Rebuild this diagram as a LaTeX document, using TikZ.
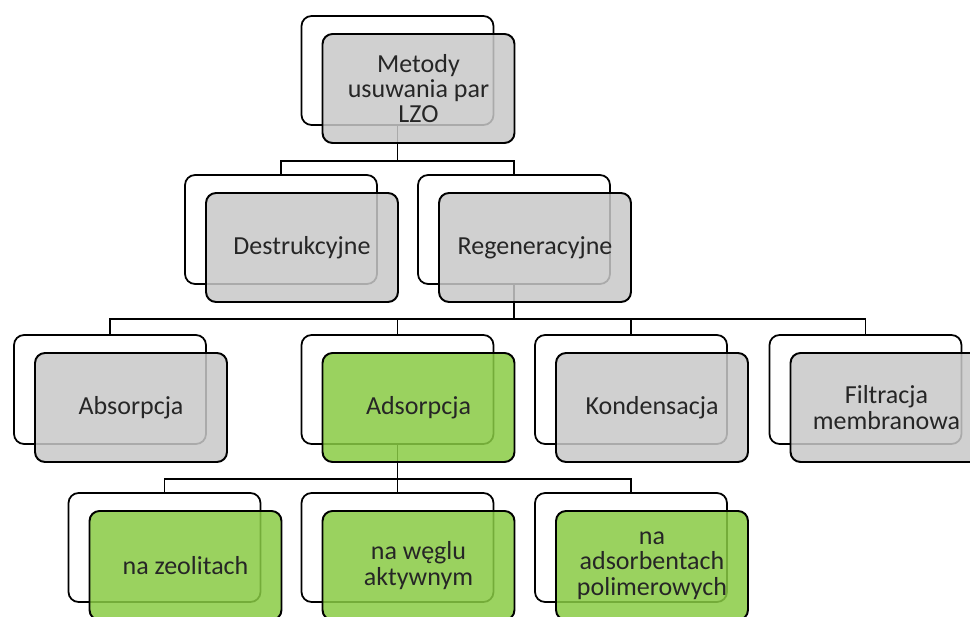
\documentclass[tikz,border=0pt]{standalone}
\usepackage{fontspec}
\setmainfont{Carlito}
\usetikzlibrary{positioning}
\definecolor{boxgray}{RGB}{200,200,200}
\definecolor{boxgreen}{RGB}{137,203,68}
\definecolor{txtgray}{RGB}{38,38,38}

\begin{document}
\begin{tikzpicture}[
  x=0.02cm, y=-0.02cm,
  back/.style={rectangle, draw=black, line width=1pt, fill=white, minimum width=3.84cm,
    minimum height=2.18cm, inner sep=0pt, rounded corners=0.2cm},
  front/.style={rectangle, draw=black, line width=1.1pt, minimum width=3.84cm,
    minimum height=2.18cm, inner sep=0pt, rounded corners=0.2cm, fill opacity=0.85,
    text opacity=1, text=txtgray, align=center, font=\fontsize{14.8}{14.4}\selectfont},
  grayF/.style={front, fill=boxgray},
  greenF/.style={front, fill=boxgreen},
  link/.style={draw=black, line width=1.1pt}
]

\useasboundingbox (0,0) rectangle (970,617);
\clip (0,0) rectangle (970,617);

% white frames behind
\node (top) [back] at (397.5,70.5) {};

\node (des) [back] at (281,229.5) {};
\node (reg) [back] at (514,229.5) {};

\node (abs) [back] at (110,389.5) {};
\node (ads) [back] at (397.5,389.5) {};
\node (kon) [back] at (631,389.5) {};
\node (fil) [back] at (865.5,389.5) {};

\node (zeo) [back] at (164.5,547.5) {};
\node (wegiel) [back] at (397.5,547.5) {};
\node (poli) [back] at (631,547.5) {};

% tree lines
\draw [link] (top.south) -- ++(0,35) -| (des.north);
\draw [link] (top.south) -- ++(0,35) -| (reg.north);

\foreach \child in {abs, ads, kon, fil}
  \draw [link] (reg.south) -- ++(0,34) -| (\child.north);

\foreach \child in {zeo, wegiel, poli}
  \draw [link] (ads.south) -- ++(0,34) -| (\child.north);

% filled boxes in front
\node (topF) [grayF, xshift=0.42cm, yshift=-0.36cm] at (top) {Metody\\usuwania par\\LZO};

\node (desF) [grayF, xshift=0.42cm, yshift=-0.36cm] at (des) {Destrukcyjne};
\node (regF) [grayF, xshift=0.42cm, yshift=-0.36cm] at (reg) {Regeneracyjne};

\node (absF) [grayF, xshift=0.42cm, yshift=-0.36cm] at (abs) {Absorpcja};
\node (adsF) [greenF, xshift=0.42cm, yshift=-0.36cm] at (ads) {Adsorpcja};
\node (konF) [grayF, xshift=0.42cm, yshift=-0.36cm] at (kon) {Kondensacja};
\node (filF) [grayF, xshift=0.42cm, yshift=-0.36cm] at (fil) {Filtracja\\membranowa};

\node (zeoF) [greenF, xshift=0.42cm, yshift=-0.36cm] at (zeo) {na zeolitach};
\node (wegielF) [greenF, xshift=0.42cm, yshift=-0.36cm] at (wegiel) {na węglu\\aktywnym};
\node (poliF) [greenF, xshift=0.42cm, yshift=-0.36cm] at (poli) {na\\adsorbentach\\polimerowych};

\end{tikzpicture}
\end{document}
